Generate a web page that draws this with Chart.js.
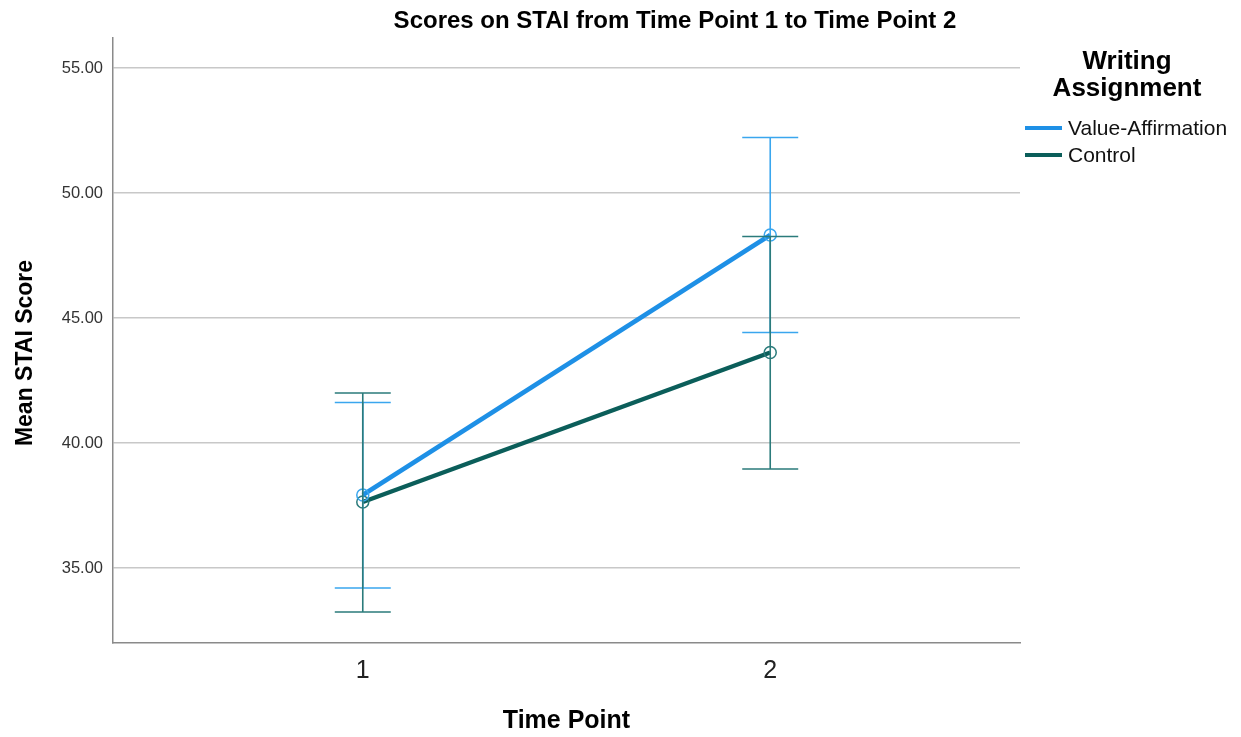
<!DOCTYPE html>
<html>
<head>
<meta charset="utf-8">
<script src="https://cdn.jsdelivr.net/npm/chart.js@4/dist/chart.umd.min.js"></script>
<style>
  body { margin: 0; background: #fff; }
  canvas { display: block; }
</style>
</head>
<body>
<canvas id="stai-chart" width="1241" height="737"></canvas>
<script>
const timePoints = [1, 2];
const groups = ['Value-Affirmation', 'Control'];
const valueMeans = [37.92, 48.32];
const valueLower = [34.20, 44.42];
const valueUpper = [41.62, 52.22];
const controlMeans = [37.64, 43.62];
const controlLower = [33.24, 38.96];
const controlUpper = [42.00, 48.26];
const yTicks = [35, 40, 45, 50, 55];

const FONT = "'Liberation Sans', Arial, sans-serif";

const toPoints = (means) => timePoints.map((t, i) => ({ x: t, y: means[i] }));

// error bars drawn with the chart's own scales
const errorBars = {
  id: 'errorBars',
  afterDatasetsDraw(chart) {
    const { ctx, scales: { x, y } } = chart;
    chart.data.datasets.forEach((ds) => {
      ctx.save();
      ctx.strokeStyle = ds.errColor;
      ctx.lineWidth = 1.6;
      timePoints.forEach((t, i) => {
        const px = x.getPixelForValue(t);
        const top = y.getPixelForValue(ds.upper[i]);
        const bot = y.getPixelForValue(ds.lower[i]);
        ctx.beginPath();
        ctx.moveTo(px, top); ctx.lineTo(px, bot);
        ctx.moveTo(px - 28, top); ctx.lineTo(px + 28, top);
        ctx.moveTo(px - 28, bot); ctx.lineTo(px + 28, bot);
        ctx.stroke();
      });
      ctx.restore();
    });
  }
};

// title, y title and legend placed like the SPSS output
const decorations = {
  id: 'decorations',
  afterDraw(chart) {
    const ctx = chart.ctx;
    ctx.save();
    ctx.fillStyle = '#000';
    ctx.textAlign = 'center';
    ctx.textBaseline = 'middle';
    ctx.font = 'bold 24px ' + FONT;
    ctx.fillText('Scores on STAI from Time Point 1 to Time Point 2', 675, 21);

    ctx.save();
    ctx.translate(26, 353);
    ctx.rotate(-Math.PI / 2);
    ctx.font = 'bold 23px ' + FONT;
    ctx.fillText('Mean STAI Score', 0, 0);
    ctx.restore();

    ctx.font = 'bold 26px ' + FONT;
    ctx.fillText('Writing', 1127, 62);
    ctx.fillText('Assignment', 1127, 89);

    ctx.textAlign = 'left';
    ctx.font = '21px ' + FONT;
    chart.data.datasets.forEach((ds, i) => {
      const yy = 128 + i * 27;
      ctx.strokeStyle = ds.borderColor;
      ctx.lineWidth = 4;
      ctx.beginPath();
      ctx.moveTo(1025, yy); ctx.lineTo(1062, yy);
      ctx.stroke();
      ctx.fillStyle = '#111';
      ctx.fillText(ds.label, 1068, yy + 1);
    });
    ctx.restore();
  }
};

new Chart(document.getElementById('stai-chart'), {
  type: 'line',
  data: {
    datasets: [{
      label: groups[0],
      data: toPoints(valueMeans),
      lower: valueLower,
      upper: valueUpper,
      borderColor: '#1e90e6',
      errColor: '#3aa6ee',
      borderWidth: 4.5,
      pointRadius: 6,
      pointBorderWidth: 1.5,
      pointBorderColor: '#3aa6ee',
      pointBackgroundColor: 'rgba(0,0,0,0)'
    }, {
      label: groups[1],
      data: toPoints(controlMeans),
      lower: controlLower,
      upper: controlUpper,
      borderColor: '#0b5e5a',
      errColor: '#2b7b7b',
      borderWidth: 4.5,
      pointRadius: 6,
      pointBorderWidth: 1.5,
      pointBorderColor: '#2b7b7b',
      pointBackgroundColor: 'rgba(0,0,0,0)'
    }]
  },
  options: {
    responsive: false,
    animation: false,
    layout: { padding: { top: 38, right: 221, bottom: 0, left: 0 } },
    plugins: {
      legend: { display: false },
      title: { display: false },
      tooltip: { enabled: false }
    },
    scales: {
      x: {
        type: 'linear',
        min: 0.387,
        max: 2.613,
        afterBuildTicks: (s) => { s.ticks = timePoints.map((v) => ({ value: v })); },
        afterFit: (s) => { s.height = 94; },
        grid: { display: false },
        border: { color: '#8a8a8a', width: 1.5 },
        ticks: {
          padding: 5,
          color: '#222',
          font: { family: FONT, size: 25 },
          callback: (v) => String(v)
        },
        title: {
          display: true,
          text: 'Time Point',
          color: '#000',
          font: { family: FONT, size: 25, weight: 'bold' },
          padding: { top: 0, bottom: 1 }
        }
      },
      y: {
        min: 32,
        max: 56.2,
        afterBuildTicks: (s) => { s.ticks = yTicks.map((v) => ({ value: v })); },
        afterFit: (s) => { s.width = 113; },
        grid: { color: '#c8c8c8', lineWidth: 1.5, drawTicks: false },
        border: { color: '#8a8a8a', width: 1.5 },
        ticks: {
          padding: 10,
          color: '#333',
          font: { family: FONT, size: 16.5 },
          callback: (v) => Number(v).toFixed(2)
        }
      }
    }
  },
  plugins: [errorBars, decorations]
});
</script>
</body>
</html>
